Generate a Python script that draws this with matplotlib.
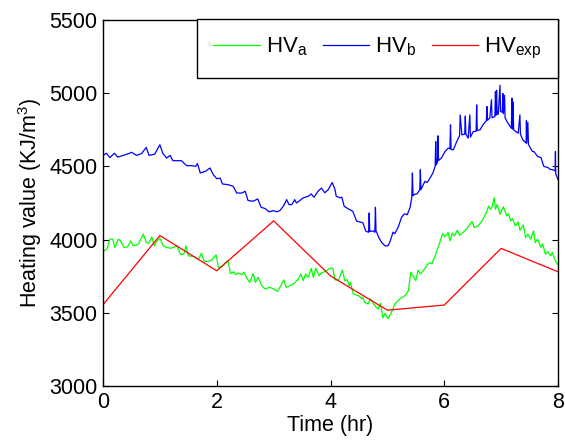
import matplotlib
matplotlib.use("Agg")
import matplotlib.pyplot as plt

# Experimental heating value, sampled hourly
t_exp = [0, 1, 2, 3, 4, 5, 6, 7, 8]
hv_exp = [3555, 4028, 3787, 4128, 3752, 3518, 3553, 3940, 3780]

# Heating value, estimate a
t_a = [0.00, 0.07, 0.12, 0.17, 0.21, 0.27, 0.31, 0.37, 0.43, 0.49, 0.53, 0.62,
       0.71, 0.76, 0.80, 0.86, 0.90, 0.95, 1.00, 1.06, 1.12, 1.20, 1.30, 1.36,
       1.42, 1.46, 1.50, 1.59, 1.68, 1.73, 1.78, 1.84, 1.91, 1.99, 2.03, 2.09,
       2.15, 2.20, 2.24, 2.30, 2.33, 2.38, 2.44, 2.48, 2.52, 2.58, 2.64, 2.68,
       2.73, 2.79, 2.85, 2.93, 3.00, 3.07, 3.11, 3.18, 3.22, 3.29, 3.36, 3.43,
       3.48, 3.52, 3.56, 3.61, 3.66, 3.70, 3.74, 3.80, 3.83, 3.93, 3.99, 4.04,
       4.08, 4.14, 4.21, 4.25, 4.29, 4.33, 4.35, 4.40, 4.49, 4.55, 4.57, 4.60,
       4.66, 4.70, 4.75, 4.80, 4.84, 4.88, 4.92, 4.96, 5.01, 5.06, 5.13, 5.22,
       5.31, 5.37, 5.41, 5.45, 5.50, 5.54, 5.58, 5.63, 5.69, 5.74, 5.78, 5.83,
       5.87, 5.92, 5.97, 6.01, 6.07, 6.10, 6.14, 6.18, 6.23, 6.27, 6.33, 6.39,
       6.45, 6.49, 6.53, 6.60, 6.67, 6.74, 6.78, 6.81, 6.84, 6.88, 6.90, 6.93,
       6.98, 7.04, 7.10, 7.13, 7.17, 7.20, 7.25, 7.30, 7.33, 7.39, 7.43, 7.47,
       7.52, 7.57, 7.60, 7.64, 7.70, 7.73, 7.78, 7.82, 7.87, 7.90, 7.94, 7.99,
       8.00]
hv_a = [3918, 3935, 4003, 4003, 3946, 4003, 3990, 3946, 3950, 3991, 3957, 3969,
        4037, 3980, 3975, 4018, 3957, 3991, 4010, 3957, 3946, 3941, 3957, 3900,
        3900, 3957, 3889, 3885, 3866, 3907, 3850, 3850, 3860, 3896, 3810, 3815,
        3843, 3855, 3768, 3780, 3760, 3772, 3760, 3776, 3742, 3708, 3768, 3708,
        3742, 3685, 3663, 3674, 3663, 3646, 3674, 3725, 3674, 3686, 3700, 3730,
        3764, 3719, 3764, 3742, 3803, 3742, 3805, 3753, 3770, 3787, 3805, 3805,
        3725, 3722, 3792, 3719, 3727, 3685, 3710, 3628, 3617, 3595, 3606, 3572,
        3560, 3595, 3565, 3538, 3527, 3565, 3466, 3497, 3459, 3493, 3560, 3595,
        3617, 3651, 3776, 3753, 3719, 3792, 3765, 3787, 3821, 3843, 3835, 3878,
        3923, 3980, 4041, 4020, 4048, 3991, 4045, 4025, 4064, 4030, 4048, 4071,
        4105, 4123, 4082, 4095, 4132, 4184, 4230, 4207, 4225, 4286, 4207, 4240,
        4174, 4224, 4161, 4177, 4127, 4143, 4093, 4120, 4064, 4100, 4014, 4037,
        4003, 4060, 3980, 4003, 3946, 3970, 3900, 3918, 3889, 3912, 3866, 3832,
        3830]

# Heating value, estimate b
t_b = [0.00, 0.06, 0.12, 0.20, 0.26, 0.47, 0.50, 0.59, 0.68, 0.76, 0.81, 0.91,
       1.00, 1.05, 1.12, 1.18, 1.23, 1.38, 1.47, 1.56, 1.63, 1.66, 1.71, 1.80,
       1.88, 1.94, 2.00, 2.06, 2.10, 2.20, 2.29, 2.35, 2.44, 2.50, 2.55, 2.64,
       2.72, 2.78, 2.85, 2.92, 3.00, 3.05, 3.11, 3.17, 3.23, 3.27, 3.32, 3.37,
       3.40, 3.46, 3.52, 3.61, 3.66, 3.71, 3.78, 3.84, 3.90, 3.96, 4.03, 4.08,
       4.10, 4.17, 4.20, 4.24, 4.31, 4.39, 4.46, 4.57, 4.62, 4.67, 4.68, 4.69,
       4.75, 4.78, 4.79, 4.80, 4.85, 4.90, 4.96, 5.01, 5.05, 5.10, 5.13, 5.19,
       5.25, 5.30, 5.35, 5.40, 5.43, 5.44, 5.45, 5.48, 5.52, 5.57, 5.58, 5.59,
       5.66, 5.70, 5.75, 5.80, 5.84, 5.85, 5.86, 5.88, 5.89, 5.90, 5.95, 6.01,
       6.07, 6.10, 6.11, 6.12, 6.16, 6.22, 6.27, 6.28, 6.31, 6.36, 6.37, 6.38,
       6.42, 6.45, 6.46, 6.51, 6.56, 6.57, 6.58, 6.63, 6.68, 6.74, 6.75, 6.76,
       6.80, 6.83, 6.84, 6.86, 6.89, 6.90, 6.91, 6.92, 6.93, 6.95, 6.98, 6.99,
       7.02, 7.03, 7.04, 7.06, 7.07, 7.12, 7.18, 7.19, 7.20, 7.21, 7.22, 7.24,
       7.30, 7.33, 7.34, 7.38, 7.44, 7.445, 7.45, 7.47, 7.48, 7.50, 7.55, 7.58,
       7.64, 7.70, 7.75, 7.82, 7.86, 7.91, 7.95, 7.955, 7.96, 7.99, 8.00]
hv_b = [4575, 4590, 4560, 4590, 4563, 4590, 4597, 4575, 4588, 4630, 4575, 4584,
        4648, 4590, 4557, 4575, 4539, 4539, 4505, 4505, 4500, 4520, 4455, 4466,
        4489, 4443, 4416, 4420, 4380, 4375, 4364, 4318, 4318, 4330, 4267, 4262,
        4278, 4221, 4212, 4190, 4198, 4190, 4198, 4228, 4273, 4239, 4239, 4273,
        4250, 4267, 4285, 4296, 4312, 4289, 4330, 4352, 4320, 4341, 4390, 4341,
        4296, 4285, 4290, 4228, 4210, 4194, 4126, 4115, 4058, 4050, 4182, 4055,
        4060, 4050, 4221, 4060, 4014, 3980, 3957, 3957, 3990, 4051, 4040, 4085,
        4153, 4176, 4170, 4221, 4290, 4455, 4300, 4310, 4312, 4341, 4477, 4341,
        4398, 4390, 4420, 4455, 4500, 4670, 4510, 4530, 4709, 4540, 4557, 4600,
        4625, 4620, 4784, 4615, 4614, 4670, 4710, 4852, 4716, 4720, 4843, 4720,
        4693, 4852, 4700, 4738, 4740, 4920, 4745, 4750, 4784, 4812, 4909, 4815,
        4830, 4955, 4832, 4835, 4840, 5011, 4850, 5020, 4855, 4857, 5054, 4875,
        4870, 4998, 4860, 4985, 4830, 4795, 4761, 4966, 4755, 4940, 4750, 4743,
        4727, 4852, 4720, 4682, 4659, 4812, 4660, 4800, 4650, 4636, 4602, 4600,
        4568, 4561, 4500, 4493, 4480, 4477, 4470, 4602, 4450, 4420, 4410]

plt.rcParams["font.family"] = "Liberation Sans"
plt.rcParams["mathtext.fontset"] = "custom"
plt.rcParams["mathtext.rm"] = "Liberation Sans"
plt.rcParams["mathtext.it"] = "Liberation Sans"

fig = plt.figure(figsize=(5.65, 4.44), dpi=100)
ax = fig.add_axes([103 / 565, 1 - 386 / 444, 455 / 565, 366 / 444])

ax.plot(t_a, hv_a, color=(0, 1, 0), lw=0.9, label=r"HV$_\mathregular{a}$")
ax.plot(t_b, hv_b, color=(0, 0, 1), lw=0.9, label=r"HV$_\mathregular{b}$")
ax.plot(t_exp, hv_exp, color=(1, 0, 0), lw=0.9, label=r"HV$_\mathregular{exp}$")

ax.set_xlim(0, 8)
ax.set_ylim(3000, 5500)
ax.set_xticks(range(0, 9, 2))
ax.set_yticks(range(3000, 5501, 500))
ax.tick_params(direction="in", top=True, right=True, labelsize=15.5,
               length=4, width=0.8, pad=4)
for side in ax.spines.values():
    side.set_linewidth(1.0)

ax.set_xlabel("Time (hr)", fontsize=15.5, labelpad=2)
ax.set_ylabel(r"Heating value (KJ/m$^\mathregular{3}$)", fontsize=15.5, labelpad=4)

leg = ax.legend(loc="upper right", ncol=3, fontsize=16, frameon=True,
                fancybox=False, edgecolor="black", framealpha=1,
                handlelength=2.1, handletextpad=0.25, columnspacing=0.7,
                borderpad=0.75, borderaxespad=0,
                bbox_to_anchor=(1.0, 1.003))
leg.get_frame().set_linewidth(1.0)

fig.savefig("out.png", dpi=100)
